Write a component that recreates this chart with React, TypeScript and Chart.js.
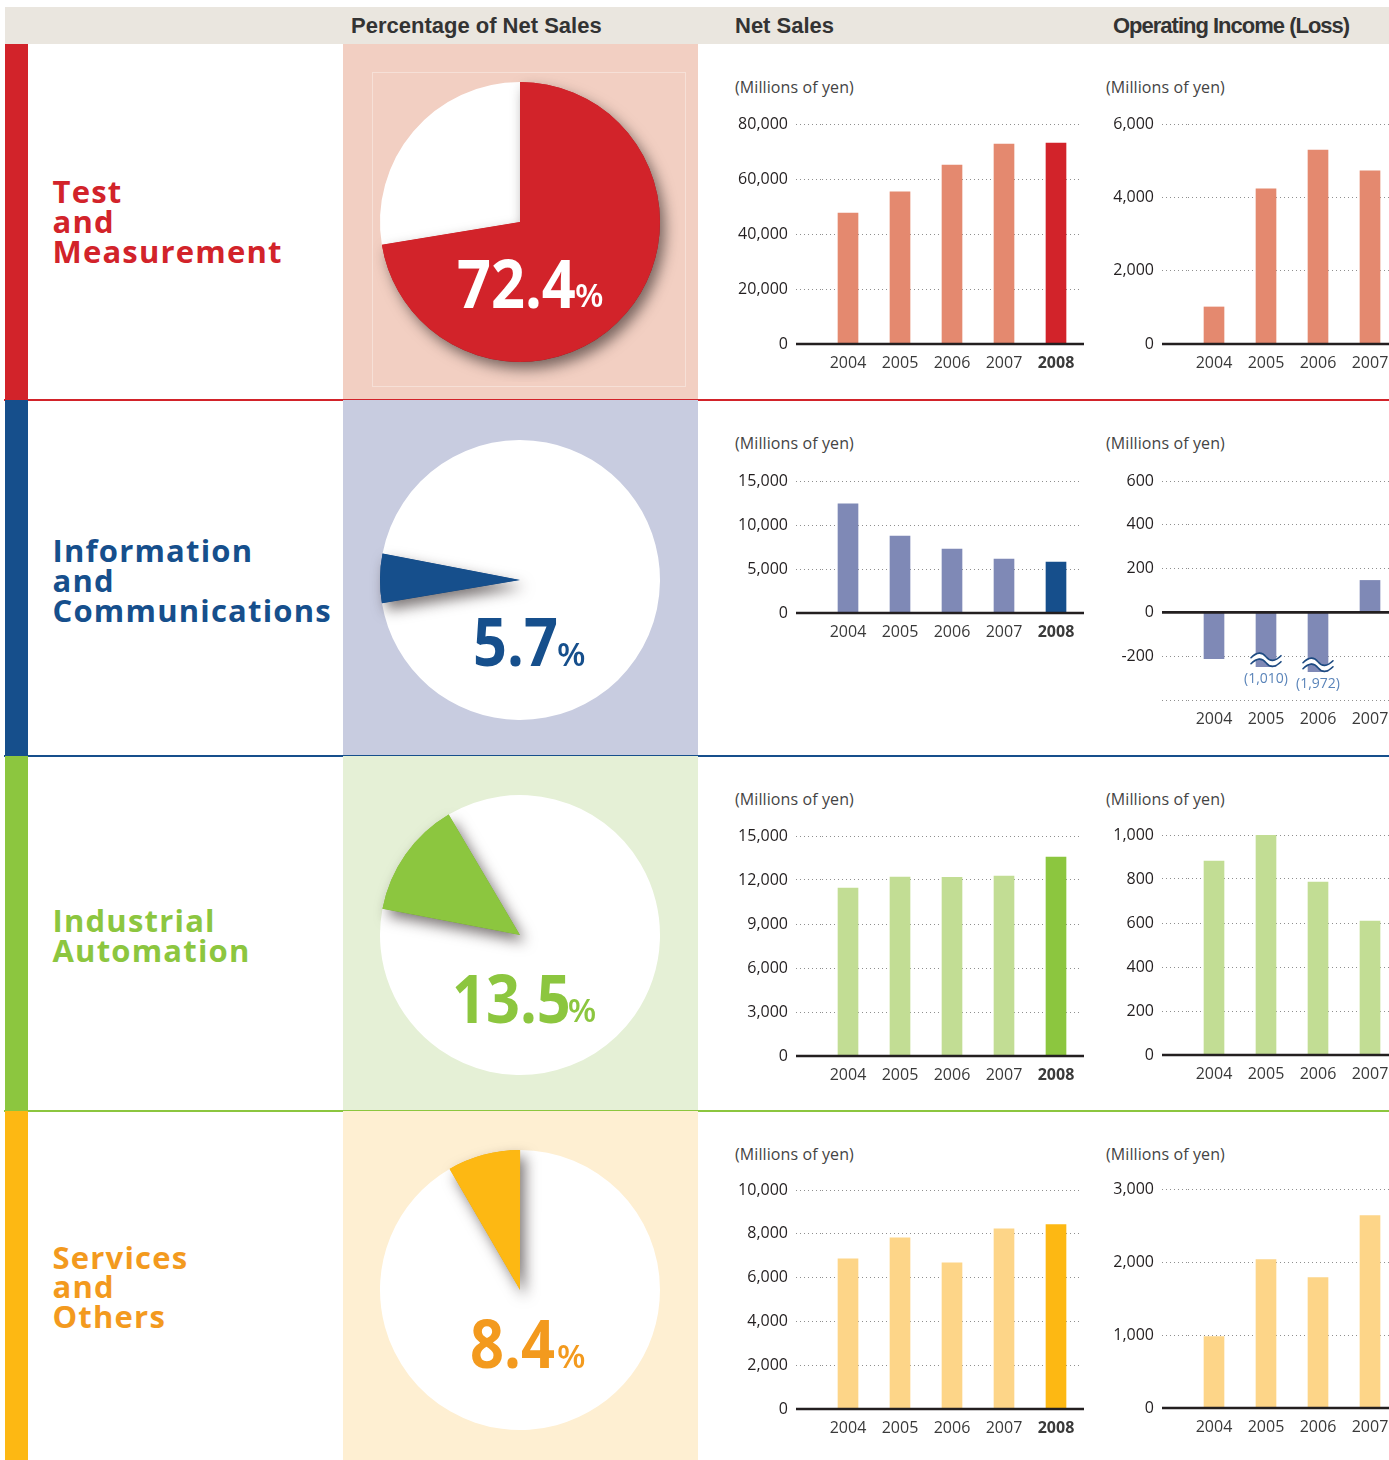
import React, { useEffect, useRef } from 'react';
import { Chart, registerables } from 'chart.js';

Chart.register(...registerables);

const FONT = "'Open Sans', 'Noto Sans', sans-serif";
const HEAD_FONT = "'Liberation Sans', Arial, sans-serif";

// ---------------- data ----------------
const years = ['2004', '2005', '2006', '2007', '2008'];
const opYears = ['2004', '2005', '2006', '2007'];

const segmentLines = [
  ['Test', 'and', 'Measurement'],
  ['Information', 'and', 'Communications'],
  ['Industrial', 'Automation'],
  ['Services', 'and', 'Others'],
];

const sharePct = [72.4, 5.7, 13.5, 8.4];
const shareStartDeg = [0, 260.4, 280.8, 329.8];

const tmNetSales = [47600, 55300, 65100, 72700, 73100];
const icNetSales = [12400, 8750, 7270, 6140, 5800];
const iaNetSales = [11450, 12200, 12180, 12270, 13570];
const soNetSales = [6860, 7820, 6680, 8230, 8420];

const tmOpIncome = [1010, 4230, 5290, 4720];
const icOpIncome = [-211, -1010, -1972, 146];
const icOpShown = [-211, -248, -271, 146]; // bars cut by the axis break
const iaOpIncome = [882, 998, 786, 609];
const soOpIncome = [977, 2032, 1785, 2635];

const netSalesAxis = [
  { min: 0, max: 80000, step: 20000 },
  { min: 0, max: 15000, step: 5000 },
  { min: 0, max: 15000, step: 3000 },
  { min: 0, max: 10000, step: 2000 },
];
const opIncomeAxis = [
  { min: 0, max: 6000, step: 2000, hideMin: false },
  { min: -400, max: 600, step: 200, hideMin: true },
  { min: 0, max: 1000, step: 200, hideMin: false },
  { min: 0, max: 3000, step: 1000, hideMin: false },
];

const headerTitles = ['Percentage of Net Sales', 'Net Sales', 'Operating Income (Loss)'];
const unitLabel = '(Millions of yen)';

// ---------------- style ----------------
const segColor = ['#D2232A', '#164F8C', '#8CC63F', '#FDB813'];
const labelColor = ['#D2232A', '#164F8C', '#8CC63F', '#F39A1E'];
const pctColor = ['#FFFFFF', '#164F8C', '#8CC63F', '#F39A1E'];
const lightBar = ['#E4896F', '#7F89B6', '#C2DD94', '#FDD588'];
const pieBg = ['#F2CFC2', '#C8CCE0', '#E5F0D6', '#FEEFD2'];

const rowTop = [44, 400, 756, 1111];
const rowBottom = [400, 756, 1111, 1460];
const pieCenterY = [221.5, 579.5, 935, 1290];
const pieCenterX = 519.5;
const labelBaseline = [204, 563.3, 933, 1269.5];
const pctLeft = [456.7, 473.3, 451.7, 470];
const pctSignLeft = [575, 557, 567.7, 557];
const pctBase = [307.7, 666, 1022.3, 1368];

const netTop = [124, 481, 836, 1190];
const netBottom = [344, 613, 1056, 1409];
const opTop = [124, 481, 835, 1189];
const opBottom = [344, 700, 1055, 1408];

type BarProps = {
  labels: string[];
  values: number[];
  shown?: number[];
  colors: string[];
  axis: { min: number; max: number; step: number; hideMin?: boolean };
  left: number;
  plotTop: number;
  plotBottom: number;
  yAxisWidth: number;
  slots: number;
  boldIndex: number;
};

function BarChart(p: BarProps) {
  const ref = useRef<HTMLCanvasElement>(null);
  const padTop = 20;
  const xAxisH = 40;
  const padRight = 4;
  const slotW = 52;
  const width = p.yAxisWidth + p.slots * slotW + padRight;
  const height = padTop + (p.plotBottom - p.plotTop) + xAxisH;

  useEffect(() => {
    const tickLen = 26;
    const zeroLine = {
      id: 'zeroLine',
      afterDatasetsDraw(chart: any) {
        const { ctx, chartArea } = chart;
        const y = chart.scales.y.getPixelForValue(0);
        ctx.save();
        ctx.strokeStyle = '#231F20';
        ctx.lineWidth = 2.6;
        ctx.beginPath();
        ctx.moveTo(chartArea.left - tickLen, y);
        ctx.lineTo(chartArea.right + 2, y);
        ctx.stroke();
        ctx.restore();
      },
    };
    const actual = p.values;
    const axisBreak = {
      id: 'axisBreak',
      afterDatasetsDraw(chart: any) {
        if (!p.shown) return;
        const { ctx } = chart;
        const meta = chart.getDatasetMeta(0);
        actual.forEach((v, i) => {
          if (v === p.shown![i]) return;
          const el = meta.data[i];
          const x = el.x;
          const yb = el.y;
          const yy = yb - 7;
          const half = 15;
          const wave = (dy: number) => {
            ctx.beginPath();
            ctx.moveTo(x - half, yy + dy + 1);
            ctx.bezierCurveTo(x - half + 6, yy + dy - 5, x - 4, yy + dy - 5, x, yy + dy);
            ctx.bezierCurveTo(x + 4, yy + dy + 5, x + half - 6, yy + dy + 5, x + half, yy + dy - 1);
            ctx.stroke();
          };
          ctx.save();
          ctx.lineCap = 'round';
          ctx.strokeStyle = '#FFFFFF';
          ctx.lineWidth = 5;
          wave(0);
          ctx.strokeStyle = '#1E4B82';
          ctx.lineWidth = 1.6;
          wave(-3);
          wave(3);
          ctx.fillStyle = '#5A84B9';
          ctx.font = `14px ${FONT}`;
          ctx.textAlign = 'center';
          ctx.textBaseline = 'middle';
          ctx.fillText('(' + Math.abs(v).toLocaleString('en-US') + ')', x, yb + 12.5);
          ctx.restore();
        });
      },
    };

    const chart = new Chart(ref.current as HTMLCanvasElement, {
      type: 'bar',
      data: {
        labels: p.labels,
        datasets: [
          {
            data: p.shown ?? p.values,
            backgroundColor: p.colors,
            borderWidth: 0,
            barThickness: 20,
          },
        ],
      },
      options: {
        animation: false,
        responsive: false,
        devicePixelRatio: 1,
        layout: { padding: { top: padTop, right: padRight, left: 0, bottom: 0 } },
        plugins: { legend: { display: false }, tooltip: { enabled: false } },
        scales: {
          x: {
            grid: { display: false, drawTicks: false },
            border: { display: false },
            ticks: {
              color: '#3a3a3a',
              padding: 10,
              maxRotation: 0,
              autoSkip: false,
              font: (ctx: any) => ({
                family: FONT,
                size: 16,
                weight: ctx.index === p.boldIndex ? 'bold' : 'normal',
              }),
            },
            afterFit: (a: any) => {
              a.height = xAxisH;
            },
          },
          y: {
            min: p.axis.min,
            max: p.axis.max,
            grid: {
              color: '#8f8f8f',
              lineWidth: 1,
              drawTicks: true,
              tickLength: tickLen,
              tickColor: '#8f8f8f',
              tickWidth: 1,
              tickBorderDash: [1, 3],
            },
            border: { display: false, dash: [1, 3] },
            ticks: {
              stepSize: p.axis.step,
              padding: 8,
              color: '#231F20',
              font: { family: FONT, size: 16 },
              callback: (v: any) => {
                const n = Number(v);
                if (p.axis.hideMin && n === p.axis.min) return '';
                return n.toLocaleString('en-US');
              },
            },
            afterFit: (a: any) => {
              a.width = p.yAxisWidth;
            },
          },
        },
      } as any,
      plugins: [zeroLine, axisBreak],
    });
    return () => chart.destroy();
  }, []);

  return (
    <canvas
      ref={ref}
      width={width}
      height={height}
      style={{ position: 'absolute', left: p.left, top: p.plotTop - padTop, width, height }}
    />
  );
}

function PieChart({ share, start, color, cy }: { share: number; start: number; color: string; cy: number }) {
  const ref = useRef<HTMLCanvasElement>(null);
  const size = 320;
  useEffect(() => {
    const sliceShadow = {
      id: 'sliceShadow',
      afterDatasetsDraw(chart: any) {
        const { ctx } = chart;
        const arc = chart.getDatasetMeta(0).data[0];
        ctx.save();
        ctx.shadowColor = 'rgba(40,30,30,0.6)';
        ctx.shadowBlur = 14;
        ctx.shadowOffsetX = 5;
        ctx.shadowOffsetY = 7;
        arc.draw(ctx);
        ctx.restore();
      },
    };
    const chart = new Chart(ref.current as HTMLCanvasElement, {
      type: 'pie',
      data: {
        labels: ['Segment', 'Other'],
        datasets: [
          {
            data: [share, 100 - share],
            backgroundColor: [color, '#FFFFFF'],
            borderWidth: 0,
          },
        ],
      },
      options: {
        animation: false,
        responsive: false,
        devicePixelRatio: 1,
        rotation: start,
        layout: { padding: 20 },
        plugins: { legend: { display: false }, tooltip: { enabled: false } },
      } as any,
      plugins: [sliceShadow],
    });
    return () => chart.destroy();
  }, []);
  return (
    <canvas
      ref={ref}
      width={size}
      height={size}
      style={{ position: 'absolute', left: pieCenterX - size / 2, top: cy - size / 2, width: size, height: size }}
    />
  );
}

const netSeries = [tmNetSales, icNetSales, iaNetSales, soNetSales];
const opSeries = [tmOpIncome, icOpIncome, iaOpIncome, soOpIncome];

export default function App() {
  return (
    <div
      style={{
        position: 'relative',
        width: 1389,
        height: 1460,
        overflow: 'hidden',
        background: '#FFFFFF',
        fontFamily: FONT,
      }}
    >
      <style>{'body{margin:0;}'}</style>
      {/* header */}
      <div style={{ position: 'absolute', left: 5, top: 7, width: 1384, height: 37, background: '#EAE6DF' }} />
      {headerTitles.map((t, i) => (
        <div
          key={t}
          style={{
            position: 'absolute',
            left: [351, 735, 1113][i],
            top: 14.7,
            fontFamily: HEAD_FONT,
            fontWeight: 700,
            fontSize: 22,
            lineHeight: '22px',
            letterSpacing: i === 2 ? -1 : 0,
            color: '#333333',
            whiteSpace: 'nowrap',
          }}
        >
          {t}
        </div>
      ))}

      {rowTop.map((top, i) => {
        const h = rowBottom[i] - top;
        const netColors = years.map((_, k) => (k === years.length - 1 ? segColor[i] : lightBar[i]));
        const opColors = opYears.map(() => lightBar[i]);
        return (
          <React.Fragment key={i}>
            <div style={{ position: 'absolute', left: 5, top, width: 23, height: h, background: segColor[i] }} />
            <div style={{ position: 'absolute', left: 343, top, width: 355, height: h, background: pieBg[i] }} />
            {i === 0 && (
              <div
                style={{
                  position: 'absolute',
                  left: 371.5,
                  top: 71.5,
                  width: 314,
                  height: 315,
                  border: '1px solid rgba(255,255,255,0.35)',
                  boxSizing: 'border-box',
                }}
              />
            )}
            {i < 3 && (
              <div
                style={{ position: 'absolute', left: 4, top: rowBottom[i] - 1, width: 1385, height: 2, background: segColor[i] }}
              />
            )}
            <div
              style={{
                position: 'absolute',
                left: 52.5,
                top: labelBaseline[i] - 26.94,
                fontFamily: FONT,
                fontWeight: 700,
                fontSize: 31,
                lineHeight: '29.8px',
                letterSpacing: 1.2,
                color: labelColor[i],
                whiteSpace: 'nowrap',
              }}
            >
              {segmentLines[i].map((l) => (
                <div key={l}>{l}</div>
              ))}
            </div>

            <PieChart share={sharePct[i]} start={shareStartDeg[i]} color={segColor[i]} cy={pieCenterY[i]} />
            <div
              style={{
                position: 'absolute',
                left: pctLeft[i],
                top: pctBase[i] - 0.888 * 66,
                fontFamily: FONT,
                fontWeight: 700,
                fontSize: 66,
                lineHeight: '66px',
                color: pctColor[i],
                whiteSpace: 'nowrap',
                transform: 'scaleX(0.9)',
                transformOrigin: 'left center',
              }}
            >
              {sharePct[i].toFixed(1)}
            </div>
            <div
              style={{
                position: 'absolute',
                left: pctSignLeft[i],
                top: pctBase[i] - 0.888 * 33,
                fontFamily: FONT,
                fontWeight: 600,
                fontSize: 33,
                lineHeight: '33px',
                color: pctColor[i],
                whiteSpace: 'nowrap',
              }}
            >
              %
            </div>

            {[735, 1106].map((x) => (
              <div
                key={x}
                style={{
                  position: 'absolute',
                  left: x,
                  top: top + 35,
                  fontSize: 16,
                  lineHeight: '16px',
                  color: '#444444',
                  whiteSpace: 'nowrap',
                  letterSpacing: 0.1,
                }}
              >
                {unitLabel}
              </div>
            ))}

            <BarChart
              labels={years}
              values={netSeries[i]}
              colors={netColors}
              axis={netSalesAxis[i]}
              left={700}
              plotTop={netTop[i]}
              plotBottom={netBottom[i]}
              yAxisWidth={122}
              slots={5}
              boldIndex={4}
            />
            <BarChart
              labels={opYears}
              values={opSeries[i]}
              shown={i === 1 ? icOpShown : undefined}
              colors={opColors}
              axis={opIncomeAxis[i]}
              left={1090}
              plotTop={opTop[i]}
              plotBottom={opBottom[i]}
              yAxisWidth={98}
              slots={4}
              boldIndex={4}
            />
          </React.Fragment>
        );
      })}
    </div>
  );
}
